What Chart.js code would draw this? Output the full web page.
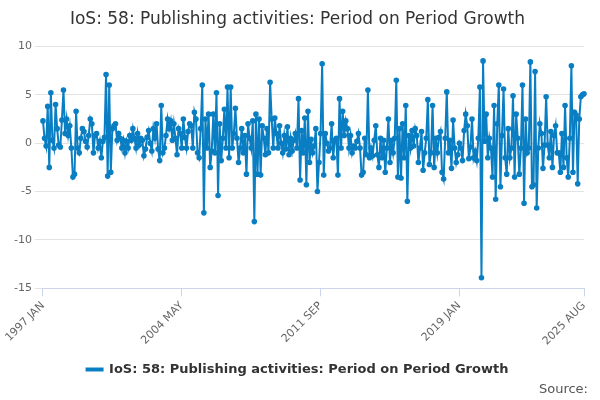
<!DOCTYPE html>
<html>
<head>
<meta charset="utf-8">
<script src="https://cdn.jsdelivr.net/npm/chart.js@4"></script>
<style>
  body { margin: 0; background: #fff; font-family: "DejaVu Sans", sans-serif; }
  #wrap { position: relative; width: 600px; height: 400px; }
  #source { position: absolute; right: 12px; bottom: 4px; font-size: 13px; color: #555; }
</style>
</head>
<body>
<div id="wrap">
  <canvas id="chart" width="600" height="400"></canvas>
  <div id="source">Source:</div>
</div>
<script>
// Month names used in the period labels
const monthNames = ["JAN","FEB","MAR","APR","MAY","JUN","JUL","AUG","SEP","OCT","NOV","DEC"];

// Period on period growth, monthly, 1997 JAN .. 2025 AUG
const growth = [
  2.3,0.5,-0.3,3.8,-2.5,5.2,0.3,-0.5,4.0,1.5,-0.2,-0.4,   // 1997
  2.4,5.5,1.0,2.5,0.8,1.8,-0.5,-3.5,-3.2,3.3,-0.5,-1.0,   // 1998
  0.5,1.5,1.2,0.2,-0.4,0.8,2.5,2.0,-1.0,0.8,1.0,-0.5,     // 1999
  0.2,-1.5,0.2,0.6,7.1,-3.4,6.0,-3.0,1.5,1.8,2.0,0.3,     // 2000
  1.0,0.5,-0.5,0.3,-1.0,0.2,-0.5,0.8,0.3,1.5,0.5,-0.5,    // 2001
  1.0,-0.2,0.5,0.3,-1.3,-0.6,0.6,1.3,0.0,-0.8,1.5,0.5,    // 2002
  2.0,-0.6,-1.8,3.9,-1.0,-0.5,0.8,2.5,1.5,2.3,0.3,2.0,    // 2003
  0.5,-1.2,1.5,1.0,-0.5,2.5,0.6,-0.5,1.2,2.0,1.8,-0.5,    // 2004
  3.2,2.5,-1.0,-1.5,1.5,6.0,-7.2,2.5,-0.5,3.0,-2.5,-0.8,  // 2005
  3.0,-1.0,5.2,-5.4,2.0,-1.8,0.5,3.5,-0.5,5.8,-1.5,5.8,   // 2006
  -0.5,1.0,3.6,0.5,-2.0,-0.5,1.5,-1.0,0.8,-3.2,2.0,0.5,   // 2007
  -0.5,2.3,-8.1,3.0,-3.2,2.5,-3.3,1.8,0.5,-1.2,1.5,-1.0,  // 2008
  6.3,2.5,-0.5,2.6,1.0,-0.5,1.8,0.0,-1.0,0.8,-0.6,1.7,    // 2009
  -1.2,0.5,-0.8,0.3,1.0,-0.5,4.6,-3.8,1.3,-1.0,2.6,-4.3,  // 2010
  3.3,-2.0,0.4,-1.0,-0.3,1.5,-5.0,-2.0,1.0,8.2,-3.3,1.0,  // 2011
  0.0,-0.8,-0.5,2.0,-1.5,0.3,0.5,-3.3,4.6,-0.5,3.3,0.8,   // 2012
  2.3,1.5,-0.5,0.8,-1.0,-0.3,-0.5,0.2,1.0,-0.5,-3.3,-3.0, // 2013
  0.5,-1.2,5.5,-1.5,-0.5,-1.3,0.3,1.8,-1.2,-2.5,0.5,-1.5, // 2014
  0.3,-3.0,-0.5,2.5,-2.0,0.3,-1.0,0.5,6.5,-3.5,1.5,-3.6,  // 2015
  2.0,-1.5,3.9,-6.0,0.8,-0.5,1.3,-0.3,1.5,0.8,-2.0,-0.5,  // 2016
  1.2,-2.8,-1.0,0.5,4.5,-2.2,-1.0,3.9,-2.5,0.5,-1.0,0.6,  // 2017
  1.2,-3.0,-3.7,0.5,5.3,-1.0,0.3,-2.6,2.4,-0.5,-2.0,-1.2, // 2018
  0.0,-0.5,-1.8,1.3,3.0,1.8,-1.6,-0.4,2.5,-1.5,-0.8,-1.8, // 2019
  0.5,5.8,-13.9,8.5,0.2,3.0,-1.5,0.5,-0.5,-3.5,3.9,-5.8,  // 2020
  2.0,6.0,-4.5,0.8,5.6,-1.5,-3.2,1.5,-1.5,-0.5,4.9,-3.5,  // 2021
  3.0,0.5,-3.2,-0.5,6.0,-6.2,2.5,-1.0,-0.5,8.4,-4.5,-4.3, // 2022
  7.4,-6.7,-0.5,2.0,1.0,-2.6,-0.2,4.8,-0.2,-1.5,1.2,-2.5, // 2023
  0.8,1.8,-1.0,-1.0,-3.0,1.0,-2.5,3.9,-1.5,-3.5,0.5,8.0,  // 2024
  -3.0,3.2,2.9,-4.2,2.5,4.8,5.0,5.1                       // 2025
];

// Periods labelled on the x axis
const shownTicks = ["1997 JAN", "2004 MAY", "2011 SEP", "2019 JAN", "2025 AUG"];

// Build period labels from the series length
const periods = growth.map((v, i) => (1997 + Math.floor(i / 12)) + " " + monthNames[i % 12]);

const ctx = document.getElementById("chart").getContext("2d");
new Chart(ctx, {
  type: "line",
  data: {
    labels: periods,
    datasets: [{
      label: "IoS: 58: Publishing activities: Period on Period Growth",
      data: growth,
      borderColor: "#0a7ec2",
      backgroundColor: "#0a7ec2",
      borderWidth: 2,
      pointRadius: 1.8,
      pointHoverRadius: 3,
      tension: 0,
    }],
  },
  options: {
    responsive: false,
    animation: false,
    layout: { padding: { left: 11, right: 16, top: 0, bottom: 14 } },
    plugins: {
      title: {
        display: true,
        text: "IoS: 58: Publishing activities: Period on Period Growth",
        color: "#333",
        font: { family: "DejaVu Sans", size: 17, weight: "normal" },
        padding: { top: 9, bottom: 17 },
      },
      legend: {
        position: "bottom",
        labels: {
          color: "#333",
          font: { family: "DejaVu Sans", size: 13, weight: "bold" },
          boxWidth: 16,
          boxHeight: 2,
          padding: 12,
        },
      },
    },
    scales: {
      y: {
        min: -15,
        max: 10,
        ticks: { stepSize: 5, color: "#666", font: { family: "DejaVu Sans", size: 11 } },
        grid: { color: "#e3e3e3" },
        border: { display: false },
      },
      x: {
        ticks: {
          autoSkip: false,
          maxRotation: 45,
          minRotation: 45,
          color: "#666",
          font: { family: "DejaVu Sans", size: 11 },
          callback: function (value) {
            const lab = this.getLabelForValue(value);
            return shownTicks.includes(lab) ? lab : null;
          },
        },
        grid: { drawOnChartArea: false, color: "#ccd6eb", tickLength: 8 },
        border: { color: "#ccd6eb" },
      },
    },
  },
});
</script>
</body>
</html>
